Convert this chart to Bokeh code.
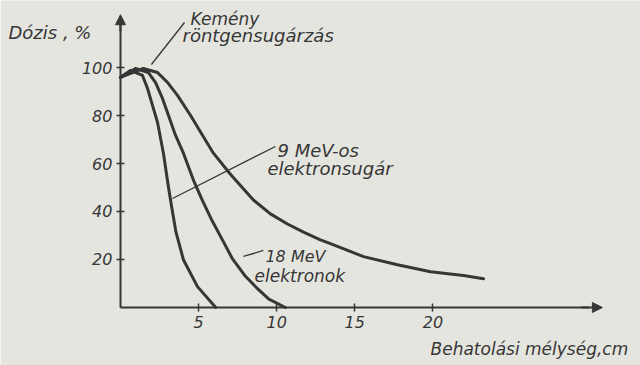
from bokeh.plotting import figure
from bokeh.models import Range1d, Label, Arrow, NormalHead, FixedTicker
from bokeh.embed import file_html
from bokeh.resources import INLINE

# ---- data ----
depth_9mev = [0, 0.64, 1.41, 1.73, 2.05, 2.37, 2.75, 3.07, 3.30, 3.55, 4.03, 4.93, 6.1]
dose_9mev = [95.9, 98.8, 96.7, 91.3, 84.2, 77.2, 64.3, 50.2, 41.0, 31.5, 19.9, 8.7, 0]

depth_18mev = [0, 0.96, 1.79, 2.24, 2.69, 3.07, 3.52, 4.03, 4.67, 5.25, 5.8, 6.5, 7.15, 8.0, 8.7, 9.5, 10.56]
dose_18mev = [95.9, 99.6, 97.9, 93.8, 87.1, 80.1, 71.8, 64.3, 53.1, 44.5, 37.0, 28.5, 20.5, 13.0, 8.3, 3.5, 0]

depth_xray = [0, 1.47, 2.37, 3.01, 3.65, 4.48, 5.25, 5.95, 7.04, 7.68, 8.51, 9.6, 10.69,
              11.72, 12.8, 13.44, 15.56, 17.73, 19.85, 21.96, 23.24]
dose_xray = [95.9, 99.6, 97.9, 93.8, 88.4, 80.1, 71.8, 64.3, 55.5, 50.8, 44.8, 39.0, 34.8,
             31.4, 28.2, 26.6, 21.2, 17.8, 14.9, 13.3, 12.0]

x_ticks = [5, 10, 15, 20]
y_ticks = [20, 40, 60, 80, 100]

# ---- style ----
INK = "#363636"
BG = "#e5e5df"
FONT = "DejaVu Sans"

p = figure(width=640, height=365,
           x_range=Range1d(-7.68, 33.29), y_range=Range1d(-24.17, 127.92),
           output_backend="svg", toolbar_location=None,
           min_border=0,
           background_fill_color=BG, border_fill_color=BG,
           outline_line_color=None)
p.grid.visible = False

for ax, ticks, bnds in ((p.xaxis, x_ticks, (0, 30.0)), (p.yaxis, y_ticks, (0, 118.5))):
    ax.fixed_location = 0
    ax.ticker = FixedTicker(ticks=ticks)
    ax.bounds = bnds
    ax.axis_line_color = INK
    ax.axis_line_width = 2
    ax.major_tick_line_color = INK
    ax.major_tick_line_width = 1.5
    ax.major_tick_in = 4
    ax.major_tick_out = 4
    ax.minor_tick_line_color = None
    ax.major_label_text_font = FONT
    ax.major_label_text_font_style = "italic"
    ax.major_label_text_font_size = "16px"
    ax.major_label_text_color = INK
p.xaxis.major_label_standoff = 5
p.yaxis.major_label_standoff = 4

# axis arrow heads
p.add_layout(Arrow(end=NormalHead(size=10, fill_color=INK, line_color=INK),
                   x_start=0, y_start=115, x_end=0, y_end=122.0,
                   line_color=INK, line_width=2))
p.add_layout(Arrow(end=NormalHead(size=10, fill_color=INK, line_color=INK),
                   x_start=29.5, y_start=0, x_end=30.85, y_end=0,
                   line_color=INK, line_width=2))

# curves
for xs, ys in ((depth_9mev, dose_9mev), (depth_18mev, dose_18mev), (depth_xray, dose_xray)):
    p.line(xs, ys, line_color=INK, line_width=3, line_join="round", line_cap="round")

# leader lines
for (x0, y0, x1, y1) in ((4.10, 118.75, 1.98, 101.25),
                         (9.92, 67.1, 3.33, 45.4),
                         (7.87, 21.25, 9.15, 23.75)):
    p.add_layout(Arrow(end=None, x_start=x0, y_start=y0, x_end=x1, y_end=y1,
                       line_color=INK, line_width=1.3))

# texts
def txt(x, y, s, size="17px"):
    p.add_layout(Label(x=x, y=y, text=s, text_font=FONT, text_font_style="italic",
                       text_font_size=size, text_color=INK, text_baseline="alphabetic"))

txt(4.48, 120.1, "Kemény")
txt(3.97, 113.2, "röntgensugárzás", size="18px")
txt(10.05, 65.4, "9 MeV-os", size="18px")
txt(9.41, 57.9, "elektronsugár", size="18px")
txt(9.28, 21.25, "18 MeV", size="16px")
txt(8.58, 13.3, "elektronok")
txt(-7.17, 114.6, "Dózis , %", size="18px")
txt(19.85, -17.1, "Behatolási mélység,cm", size="17px")

open("out.html", "w").write(file_html(p, INLINE))
